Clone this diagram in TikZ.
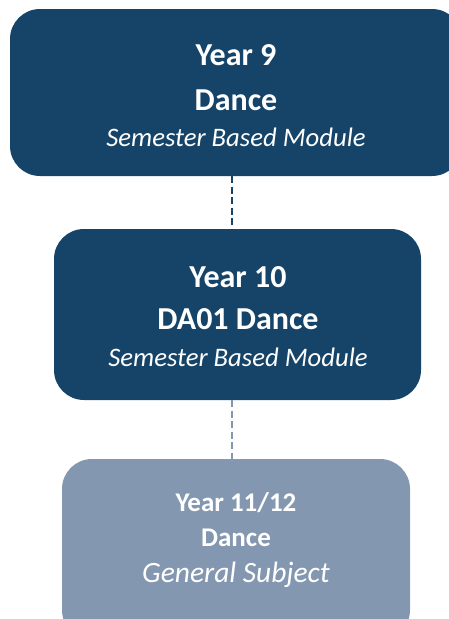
\documentclass[tikz,border=0pt]{standalone}
\usepackage{fontspec}
\setmainfont{Carlito}
\definecolor{navy}{HTML}{154468}
\definecolor{steel}{HTML}{8497B0}
\begin{document}
\begin{tikzpicture}[x=1pt,y=-1pt,
  card/.style={fill=#1, rounded corners=30pt, draw=none},
  ttl/.style={text=white, font=\bfseries\fontsize{32}{32}\selectfont, anchor=center},
  sub/.style={text=white, font=\itshape\fontsize{26.7}{26.7}\selectfont, anchor=center},
  link/.style={line width=2.5pt, dash pattern=on 7pt off 3.5pt}]
\useasboundingbox (0,0) rectangle (448,619);
% boxes
\path[card=navy] (10,9) rectangle (462,176);
\path[card=navy] (54,229) rectangle (421,400);
\path[card=steel] (62,459) rectangle (410,640);
\coordinate (b1) at (232,176);
\coordinate (t2) at (232,229);
\coordinate (b2) at (232,400);
\coordinate (t3) at (232,459);
\draw[link, draw=navy] (b1) -- (t2);
\draw[link, draw=steel] (b2) -- (t3);
% texts
\node[ttl] (y9) at (236,55) {Year 9};
\node[ttl] (d9) at (236,100) {Dance};
\node[sub] (s9) at (236,137) {Semester Based Module};
\node[ttl] (y10) at (238,277) {Year 10};
\node[ttl] (d10) at (238,319) {DA01 Dance};
\node[sub] (s10) at (238,357) {Semester Based Module};
\node[ttl, font=\bfseries\fontsize{27}{27}\selectfont] (y11) at (236,503) {Year 11/12};
\node[ttl, font=\bfseries\fontsize{27}{27}\selectfont] (d11) at (236,538) {Dance};
\node[sub, font=\itshape\fontsize{29.5}{29.5}\selectfont] (s11) at (236,575) {General Subject};
\end{tikzpicture}
\end{document}
